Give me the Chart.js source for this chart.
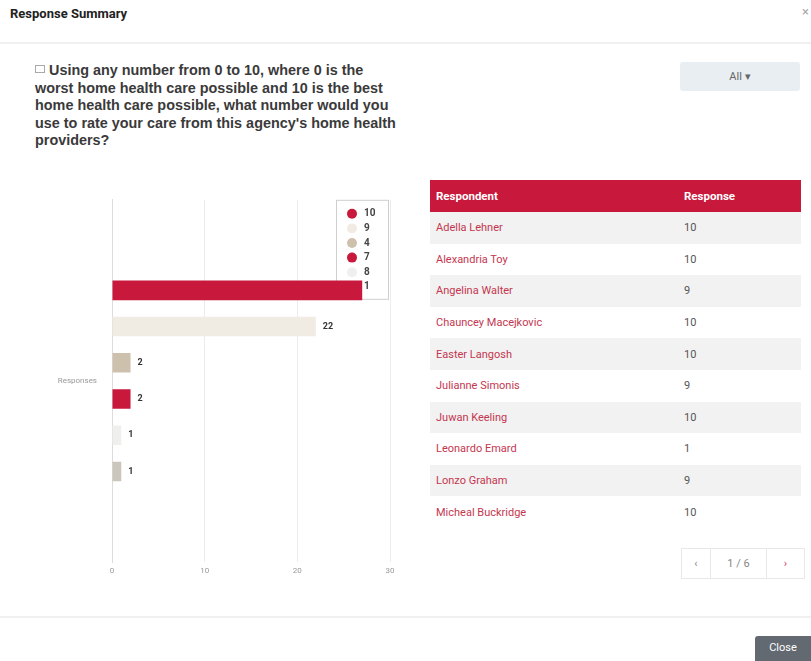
<!DOCTYPE html>
<html>
<head>
<meta charset="utf-8">
<script src="https://cdn.jsdelivr.net/npm/chart.js@4"></script>
<style>
  html, body { margin: 0; padding: 0; background: #fff; }
  body { width: 811px; height: 661px; position: relative; overflow: hidden; font-family: Roboto, "Liberation Sans", sans-serif; color: #333; }
  .title { position: absolute; left: 10px; top: 6px; font-size: 13px; font-weight: bold; color: #222; }
  .close-x { position: absolute; right: 2px; top: 4px; font-size: 13px; color: #aaa; }
  .sep { position: absolute; left: 0; width: 811px; height: 2px; background: #f0f0f0; }
  .question { position: absolute; left: 35px; top: 62px; font-family: "Liberation Sans", Arial, sans-serif; font-size: 14.4px; font-weight: bold; line-height: 17.5px; color: #3a3a3a; white-space: nowrap; }
  .q-icon { display: inline-block; width: 8px; height: 6px; border: 1px solid #aaa; margin-right: 4px; vertical-align: 2px; }
  .filter { position: absolute; left: 680px; top: 62px; width: 120px; height: 29px; background: #e9eef3; border-radius: 3px; font-size: 11px; color: #666; text-align: center; line-height: 29px; }
  .chart-wrap { position: absolute; left: 40px; top: 180px; width: 360px; height: 410px; }
  table { position: absolute; left: 430px; top: 180px; width: 371px; border-collapse: collapse; font-size: 11px; }
  th { background: #c8193c; color: #fff; font-weight: bold; text-align: left; height: 32px; padding: 0 0 0 6px; font-size: 11.5px; }
  td { height: 31.6px; padding: 0 0 0 6px; }
  tbody tr:nth-child(odd) td { background: #f2f2f2; }
  td.name { color: #c4364f; width: 242px; }
  td.resp { color: #555; }
  .pager { position: absolute; left: 682px; top: 548px; height: 31px; display: flex; font-size: 11px; }
  .pager div { border: 1px solid #e8e8e8; margin-left: -1px; text-align: center; line-height: 29px; color: #888; }
  .pager .next { color: #d04060; }
  .close-btn { position: absolute; left: 755px; top: 636px; width: 56px; height: 30px; background: #626970; color: #fff; font-size: 11px; line-height: 24px; text-align: center; border-radius: 3px 0 0 0; }
</style>
</head>
<body>
<div class="title">Response Summary</div>
<div class="close-x">×</div>
<div class="sep" style="top: 42px;"></div>
<div class="question"><span class="q-icon"></span>Using any number from 0 to 10, where 0 is the<br>worst home health care possible and 10 is the best<br>home health care possible, what number would you<br>use to rate your care from this agency's home health<br>providers?</div>
<div class="filter">All &#9662;</div>
<div class="chart-wrap"><canvas id="chart"></canvas></div>
<table>
  <thead><tr><th>Respondent</th><th>Response</th></tr></thead>
  <tbody id="rows"></tbody>
</table>
<div class="pager" id="pager"></div>
<div class="sep" style="top: 616px;"></div>
<div class="close-btn">Close</div>

<script>
  const categories = ["Responses"];
  const answerLabels = ["10", "9", "4", "7", "8", "1"];
  const answerCounts = [27, 22, 2, 2, 1, 1];
  const answerColors = ["#c8193c", "#f1ece3", "#cdc1ae", "#c8193c", "#efefed", "#cbc6bd"];
  const axisMin = 0;
  const axisMax = 30;
  const axisStep = 10;

  const respondentNames = [
    "Adella Lehner", "Alexandria Toy", "Angelina Walter", "Chauncey Macejkovic", "Easter Langosh",
    "Julianne Simonis", "Juwan Keeling", "Leonardo Emard", "Lonzo Graham", "Micheal Buckridge",
  ];
  const respondentAnswers = ["10", "10", "9", "10", "10", "9", "10", "1", "9", "10"];
  const currentPage = 1;
  const totalPages = 6;

  document.getElementById("rows").innerHTML = respondentNames
    .map((name, i) => `<tr><td class="name">${name}</td><td class="resp">${respondentAnswers[i]}</td></tr>`)
    .join("");

  document.getElementById("pager").innerHTML = `
    <div style="width:28px">&lsaquo;</div>
    <div style="width:55px">${currentPage} / ${totalPages}</div>
    <div class="next" style="width:37px">&rsaquo;</div>`;

  // legend box sits in the top right of the chart area, bars draw over it
  function legendBox(chart) {
    const area = chart.chartArea;
    return { left: area.right - 54, top: area.top, width: 52, height: 99 };
  }

  const boxLegend = {
    id: "boxLegend",
    beforeDatasetsDraw(chart) {
      const ctx = chart.ctx;
      const box = legendBox(chart);
      ctx.save();
      ctx.strokeStyle = "#cfcfcf";
      ctx.lineWidth = 1;
      ctx.strokeRect(box.left + 0.5, box.top + 0.5, box.width, box.height);
      ctx.font = "bold 10px Roboto, sans-serif";
      ctx.textBaseline = "middle";
      answerLabels.forEach((label, i) => {
        const y = box.top + 14 + i * 14.6;
        ctx.fillStyle = answerColors[i];
        ctx.beginPath();
        ctx.arc(box.left + 16, y, 5, 0, Math.PI * 2);
        ctx.fill();
        ctx.fillStyle = "#444";
        ctx.fillText(label, box.left + 28, y);
      });
      ctx.restore();
    },
  };

  const valueLabels = {
    id: "valueLabels",
    afterDatasetsDraw(chart) {
      const ctx = chart.ctx;
      const box = legendBox(chart);
      ctx.save();
      ctx.font = "bold 9px Roboto, sans-serif";
      ctx.fillStyle = "#333";
      ctx.textBaseline = "middle";
      chart.data.datasets.forEach((dataset, i) => {
        chart.getDatasetMeta(i).data.forEach((bar, j) => {
          const text = String(dataset.data[j]);
          const x = bar.x + 7;
          const w = ctx.measureText(text).width;
          const hitsLegend = x + w > box.left && bar.y - 5 < box.top + box.height;
          if (hitsLegend) return;
          ctx.fillText(text, x, bar.y);
        });
      });
      ctx.restore();
    },
  };

  new Chart(document.getElementById("chart"), {
    type: "bar",
    data: {
      labels: categories,
      datasets: answerLabels.map((label, i) => ({
        label,
        data: [answerCounts[i]],
        backgroundColor: answerColors[i],
        borderWidth: 0,
        categoryPercentage: 0.6,
        barPercentage: 0.54,
      })),
    },
    options: {
      indexAxis: "y",
      responsive: true,
      maintainAspectRatio: false,
      animation: false,
      layout: { padding: { top: 13, right: 10, left: 0, bottom: 0 } },
      plugins: { legend: { display: false }, tooltip: { enabled: false } },
      scales: {
        x: {
          min: axisMin,
          max: axisMax,
          ticks: { stepSize: axisStep, color: "#999", font: { size: 8, family: "Roboto" }, padding: 4 },
          grid: { color: "#ececec", drawTicks: false },
          border: { display: false },
          afterFit(scale) { scale.height = 28; },
        },
        y: {
          ticks: { color: "#999", font: { size: 8, family: "Roboto" }, padding: 15 },
          grid: { display: false, drawTicks: false },
          border: { display: true, color: "#dcdcdc" },
          afterFit(scale) { scale.width = 72; },
        },
      },
    },
    plugins: [boxLegend, valueLabels],
  });
</script>
</body>
</html>
